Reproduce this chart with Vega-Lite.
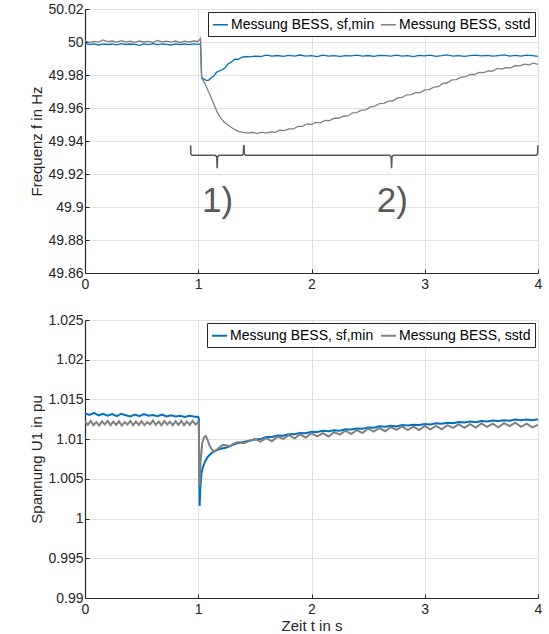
{
  "$schema": "https://vega.github.io/schema/vega-lite/v6.json",
  "padding": {"left": 29, "top": 2, "right": 4, "bottom": 2},
  "spacing": 22,
  "resolve": {"scale": {"color": "independent"}, "legend": {"color": "independent"}},
  "config": {
    "view": {"stroke": null},
    "font": "Liberation Sans",
    "axis": {
      "labelFont": "Liberation Sans", "labelFontSize": 14, "labelColor": "#262626",
      "titleFont": "Liberation Sans", "titleFontSize": 15, "titleFontWeight": "normal", "titleColor": "#262626",
      "domainColor": "#262626", "domainWidth": 1.2, "tickColor": "#262626", "tickSize": -4, "tickWidth": 1,
      "gridColor": "#e2e2e2", "gridWidth": 1, "labelPadding": 6, "titlePadding": 3,
      "labelOverlap": false, "labelFlush": false
    },
    "axisX": {"labelPadding": 8},
    "legend": {
      "labelFont": "Liberation Sans", "labelFontSize": 14, "labelColor": "#000000",
      "strokeColor": "#262626", "fillColor": "#ffffff", "padding": 4, "offset": 3,
      "symbolType": "stroke", "symbolSize": 225, "columnPadding": 3, "labelOffset": 2, "labelLimit": 400
    }
  },
  "datasets": {
    "freq": [
      {"t":0.00,"f":49.9990,"s":"sf,min"},{"t":0.04,"f":49.9986,"s":"sf,min"},{"t":0.08,"f":49.9988,"s":"sf,min"},{"t":0.12,"f":49.9982,"s":"sf,min"},{"t":0.16,"f":49.9988,"s":"sf,min"},{"t":0.20,"f":49.9985,"s":"sf,min"},{"t":0.24,"f":49.9988,"s":"sf,min"},{"t":0.28,"f":49.9983,"s":"sf,min"},{"t":0.32,"f":49.9990,"s":"sf,min"},{"t":0.36,"f":49.9985,"s":"sf,min"},{"t":0.40,"f":49.9988,"s":"sf,min"},{"t":0.44,"f":49.9986,"s":"sf,min"},{"t":0.48,"f":49.9980,"s":"sf,min"},{"t":0.52,"f":49.9988,"s":"sf,min"},{"t":0.56,"f":49.9984,"s":"sf,min"},{"t":0.60,"f":49.9990,"s":"sf,min"},{"t":0.64,"f":49.9984,"s":"sf,min"},{"t":0.68,"f":49.9988,"s":"sf,min"},{"t":0.72,"f":49.9986,"s":"sf,min"},{"t":0.76,"f":49.9982,"s":"sf,min"},{"t":0.80,"f":49.9989,"s":"sf,min"},{"t":0.84,"f":49.9985,"s":"sf,min"},{"t":0.88,"f":49.9988,"s":"sf,min"},{"t":0.92,"f":49.9984,"s":"sf,min"},{"t":0.96,"f":49.9989,"s":"sf,min"},{"t":1.00,"f":49.9986,"s":"sf,min"},
      {"t":1.02,"f":49.9988,"s":"sf,min"},{"t":1.03,"f":49.9785,"s":"sf,min"},{"t":1.05,"f":49.9775,"s":"sf,min"},{"t":1.07,"f":49.9768,"s":"sf,min"},{"t":1.09,"f":49.9768,"s":"sf,min"},{"t":1.11,"f":49.9780,"s":"sf,min"},{"t":1.14,"f":49.9795,"s":"sf,min"},{"t":1.16,"f":49.9816,"s":"sf,min"},{"t":1.19,"f":49.9826,"s":"sf,min"},{"t":1.22,"f":49.9836,"s":"sf,min"},{"t":1.24,"f":49.9845,"s":"sf,min"},{"t":1.26,"f":49.9866,"s":"sf,min"},{"t":1.29,"f":49.9878,"s":"sf,min"},{"t":1.32,"f":49.9896,"s":"sf,min"},{"t":1.35,"f":49.9894,"s":"sf,min"},{"t":1.38,"f":49.9906,"s":"sf,min"},{"t":1.41,"f":49.9912,"s":"sf,min"},{"t":1.45,"f":49.9910,"s":"sf,min"},{"t":1.50,"f":49.9914,"s":"sf,min"},
      {"t":1.55,"f":49.9912,"s":"sf,min"},{"t":1.60,"f":49.9920,"s":"sf,min"},{"t":1.65,"f":49.9914,"s":"sf,min"},{"t":1.70,"f":49.9918,"s":"sf,min"},{"t":1.75,"f":49.9913,"s":"sf,min"},{"t":1.80,"f":49.9919,"s":"sf,min"},{"t":1.85,"f":49.9915,"s":"sf,min"},{"t":1.90,"f":49.9921,"s":"sf,min"},{"t":1.95,"f":49.9914,"s":"sf,min"},{"t":2.00,"f":49.9917,"s":"sf,min"},{"t":2.05,"f":49.9912,"s":"sf,min"},{"t":2.10,"f":49.9920,"s":"sf,min"},{"t":2.15,"f":49.9915,"s":"sf,min"},{"t":2.20,"f":49.9918,"s":"sf,min"},{"t":2.25,"f":49.9913,"s":"sf,min"},{"t":2.30,"f":49.9917,"s":"sf,min"},{"t":2.35,"f":49.9916,"s":"sf,min"},{"t":2.40,"f":49.9921,"s":"sf,min"},{"t":2.45,"f":49.9914,"s":"sf,min"},{"t":2.50,"f":49.9918,"s":"sf,min"},{"t":2.55,"f":49.9913,"s":"sf,min"},{"t":2.60,"f":49.9919,"s":"sf,min"},{"t":2.65,"f":49.9917,"s":"sf,min"},{"t":2.70,"f":49.9914,"s":"sf,min"},{"t":2.75,"f":49.9920,"s":"sf,min"},{"t":2.80,"f":49.9915,"s":"sf,min"},{"t":2.85,"f":49.9918,"s":"sf,min"},{"t":2.90,"f":49.9912,"s":"sf,min"},{"t":2.95,"f":49.9919,"s":"sf,min"},{"t":3.00,"f":49.9916,"s":"sf,min"},{"t":3.05,"f":49.9920,"s":"sf,min"},{"t":3.10,"f":49.9913,"s":"sf,min"},{"t":3.15,"f":49.9917,"s":"sf,min"},{"t":3.20,"f":49.9922,"s":"sf,min"},{"t":3.25,"f":49.9915,"s":"sf,min"},{"t":3.30,"f":49.9918,"s":"sf,min"},{"t":3.35,"f":49.9913,"s":"sf,min"},{"t":3.40,"f":49.9917,"s":"sf,min"},{"t":3.45,"f":49.9921,"s":"sf,min"},{"t":3.50,"f":49.9916,"s":"sf,min"},{"t":3.55,"f":49.9919,"s":"sf,min"},{"t":3.60,"f":49.9914,"s":"sf,min"},{"t":3.65,"f":49.9918,"s":"sf,min"},{"t":3.70,"f":49.9922,"s":"sf,min"},{"t":3.75,"f":49.9915,"s":"sf,min"},{"t":3.80,"f":49.9919,"s":"sf,min"},{"t":3.85,"f":49.9914,"s":"sf,min"},{"t":3.90,"f":49.9920,"s":"sf,min"},{"t":3.95,"f":49.9917,"s":"sf,min"},{"t":4.00,"f":49.9913,"s":"sf,min"},
      {"t":0.00,"f":50.0005,"s":"sstd"},{"t":0.04,"f":49.9998,"s":"sstd"},{"t":0.08,"f":50.0004,"s":"sstd"},{"t":0.12,"f":49.9999,"s":"sstd"},{"t":0.16,"f":50.0012,"s":"sstd"},{"t":0.20,"f":50.0002,"s":"sstd"},{"t":0.24,"f":50.0006,"s":"sstd"},{"t":0.28,"f":49.9999,"s":"sstd"},{"t":0.32,"f":50.0008,"s":"sstd"},{"t":0.36,"f":50.0001,"s":"sstd"},{"t":0.40,"f":50.0005,"s":"sstd"},{"t":0.44,"f":49.9998,"s":"sstd"},{"t":0.48,"f":50.0006,"s":"sstd"},{"t":0.52,"f":50.0000,"s":"sstd"},{"t":0.56,"f":50.0004,"s":"sstd"},{"t":0.60,"f":49.9998,"s":"sstd"},{"t":0.64,"f":50.0009,"s":"sstd"},{"t":0.68,"f":50.0001,"s":"sstd"},{"t":0.72,"f":50.0005,"s":"sstd"},{"t":0.76,"f":49.9999,"s":"sstd"},{"t":0.80,"f":50.0006,"s":"sstd"},{"t":0.84,"f":49.9997,"s":"sstd"},{"t":0.88,"f":50.0005,"s":"sstd"},{"t":0.92,"f":50.0000,"s":"sstd"},{"t":0.96,"f":50.0006,"s":"sstd"},{"t":1.00,"f":50.0003,"s":"sstd"},
      {"t":1.02,"f":50.0022,"s":"sstd"},{"t":1.03,"f":49.9780,"s":"sstd"},{"t":1.06,"f":49.9748,"s":"sstd"},{"t":1.085,"f":49.9707,"s":"sstd"},{"t":1.11,"f":49.9670,"s":"sstd"},{"t":1.14,"f":49.9620,"s":"sstd"},{"t":1.17,"f":49.9570,"s":"sstd"},{"t":1.20,"f":49.9538,"s":"sstd"},{"t":1.23,"f":49.9514,"s":"sstd"},{"t":1.26,"f":49.9498,"s":"sstd"},{"t":1.29,"f":49.9483,"s":"sstd"},{"t":1.32,"f":49.9470,"s":"sstd"},{"t":1.36,"f":49.9457,"s":"sstd"},{"t":1.40,"f":49.9452,"s":"sstd"},{"t":1.44,"f":49.9448,"s":"sstd"},
      {"t":1.48,"f":49.9453,"s":"sstd"},{"t":1.52,"f":49.9445,"s":"sstd"},{"t":1.56,"f":49.9454,"s":"sstd"},{"t":1.60,"f":49.9448,"s":"sstd"},{"t":1.64,"f":49.9455,"s":"sstd"},{"t":1.68,"f":49.9452,"s":"sstd"},{"t":1.72,"f":49.9466,"s":"sstd"},{"t":1.76,"f":49.9463,"s":"sstd"},{"t":1.80,"f":49.9474,"s":"sstd"},{"t":1.84,"f":49.9473,"s":"sstd"},{"t":1.88,"f":49.9489,"s":"sstd"},{"t":1.92,"f":49.9489,"s":"sstd"},{"t":1.96,"f":49.9503,"s":"sstd"},{"t":2.00,"f":49.9501,"s":"sstd"},{"t":2.04,"f":49.9513,"s":"sstd"},{"t":2.08,"f":49.9511,"s":"sstd"},{"t":2.12,"f":49.9525,"s":"sstd"},{"t":2.16,"f":49.9524,"s":"sstd"},{"t":2.20,"f":49.9538,"s":"sstd"},{"t":2.24,"f":49.9538,"s":"sstd"},{"t":2.28,"f":49.9550,"s":"sstd"},{"t":2.32,"f":49.9552,"s":"sstd"},{"t":2.36,"f":49.9571,"s":"sstd"},{"t":2.40,"f":49.9572,"s":"sstd"},{"t":2.44,"f":49.9587,"s":"sstd"},{"t":2.48,"f":49.9589,"s":"sstd"},{"t":2.52,"f":49.9607,"s":"sstd"},{"t":2.56,"f":49.9611,"s":"sstd"},{"t":2.60,"f":49.9627,"s":"sstd"},{"t":2.64,"f":49.9628,"s":"sstd"},{"t":2.68,"f":49.9642,"s":"sstd"},{"t":2.72,"f":49.9644,"s":"sstd"},{"t":2.76,"f":49.9661,"s":"sstd"},{"t":2.80,"f":49.9664,"s":"sstd"},{"t":2.84,"f":49.9680,"s":"sstd"},{"t":2.88,"f":49.9681,"s":"sstd"},{"t":2.92,"f":49.9693,"s":"sstd"},{"t":2.96,"f":49.9693,"s":"sstd"},{"t":3.00,"f":49.9710,"s":"sstd"},{"t":3.04,"f":49.9711,"s":"sstd"},{"t":3.08,"f":49.9726,"s":"sstd"},{"t":3.12,"f":49.9729,"s":"sstd"},{"t":3.16,"f":49.9749,"s":"sstd"},{"t":3.20,"f":49.9753,"s":"sstd"},{"t":3.24,"f":49.9770,"s":"sstd"},{"t":3.28,"f":49.9772,"s":"sstd"},{"t":3.32,"f":49.9787,"s":"sstd"},{"t":3.36,"f":49.9788,"s":"sstd"},{"t":3.40,"f":49.9804,"s":"sstd"},{"t":3.44,"f":49.9803,"s":"sstd"},{"t":3.48,"f":49.9816,"s":"sstd"},{"t":3.52,"f":49.9814,"s":"sstd"},{"t":3.56,"f":49.9825,"s":"sstd"},{"t":3.60,"f":49.9824,"s":"sstd"},{"t":3.64,"f":49.9840,"s":"sstd"},{"t":3.68,"f":49.9836,"s":"sstd"},{"t":3.72,"f":49.9845,"s":"sstd"},{"t":3.76,"f":49.9843,"s":"sstd"},{"t":3.80,"f":49.9856,"s":"sstd"},{"t":3.84,"f":49.9855,"s":"sstd"},{"t":3.88,"f":49.9866,"s":"sstd"},{"t":3.92,"f":49.9862,"s":"sstd"},{"t":3.96,"f":49.9872,"s":"sstd"},{"t":4.00,"f":49.9864,"s":"sstd"}
    ],
    "brace": [
      {"g":1,"i":1,"t":0.933,"f":49.9374},{"g":1,"i":2,"t":0.935,"f":49.9322},{"g":1,"i":3,"t":0.945,"f":49.9313},{"g":1,"i":4,"t":1.150,"f":49.9313},{"g":1,"i":5,"t":1.163,"f":49.9305},{"g":1,"i":6,"t":1.167,"f":49.9235},{"g":1,"i":7,"t":1.171,"f":49.9305},{"g":1,"i":8,"t":1.184,"f":49.9313},{"g":1,"i":9,"t":1.388,"f":49.9313},{"g":1,"i":10,"t":1.398,"f":49.9322},{"g":1,"i":11,"t":1.401,"f":49.9374},
      {"g":2,"i":1,"t":1.404,"f":49.9374},{"g":2,"i":2,"t":1.407,"f":49.9322},{"g":2,"i":3,"t":1.417,"f":49.9313},{"g":2,"i":4,"t":2.690,"f":49.9313},{"g":2,"i":5,"t":2.703,"f":49.9305},{"g":2,"i":6,"t":2.707,"f":49.9235},{"g":2,"i":7,"t":2.711,"f":49.9305},{"g":2,"i":8,"t":2.724,"f":49.9313},{"g":2,"i":9,"t":3.985,"f":49.9313},{"g":2,"i":10,"t":3.996,"f":49.9322},{"g":2,"i":11,"t":3.999,"f":49.9374}
    ],
    "lbl": [
      {"t":1.170,"f":49.897,"label":"1)"},
      {"t":2.714,"f":49.897,"label":"2)"}
    ],
    "volt": [
      {"t":0.00,"u":1.01325,"s":"sf,min"},{"t":0.04,"u":1.01305,"s":"sf,min"},{"t":0.08,"u":1.01330,"s":"sf,min"},{"t":0.12,"u":1.01300,"s":"sf,min"},{"t":0.16,"u":1.01320,"s":"sf,min"},{"t":0.20,"u":1.01295,"s":"sf,min"},{"t":0.24,"u":1.01315,"s":"sf,min"},{"t":0.28,"u":1.01290,"s":"sf,min"},{"t":0.32,"u":1.01320,"s":"sf,min"},{"t":0.36,"u":1.01300,"s":"sf,min"},{"t":0.40,"u":1.01285,"s":"sf,min"},{"t":0.44,"u":1.01310,"s":"sf,min"},{"t":0.48,"u":1.01290,"s":"sf,min"},{"t":0.52,"u":1.01315,"s":"sf,min"},{"t":0.56,"u":1.01295,"s":"sf,min"},{"t":0.60,"u":1.01305,"s":"sf,min"},{"t":0.64,"u":1.01290,"s":"sf,min"},{"t":0.68,"u":1.01310,"s":"sf,min"},{"t":0.72,"u":1.01285,"s":"sf,min"},{"t":0.76,"u":1.01300,"s":"sf,min"},{"t":0.80,"u":1.01285,"s":"sf,min"},{"t":0.84,"u":1.01295,"s":"sf,min"},{"t":0.88,"u":1.01280,"s":"sf,min"},{"t":0.92,"u":1.01295,"s":"sf,min"},{"t":0.96,"u":1.01285,"s":"sf,min"},{"t":1.00,"u":1.01280,"s":"sf,min"},
      {"t":1.005,"u":1.01255,"s":"sf,min"},{"t":1.012,"u":1.00160,"s":"sf,min"},{"t":1.02,"u":1.00420,"s":"sf,min"},{"t":1.03,"u":1.00580,"s":"sf,min"},{"t":1.04,"u":1.00640,"s":"sf,min"},{"t":1.06,"u":1.00720,"s":"sf,min"},{"t":1.08,"u":1.00770,"s":"sf,min"},{"t":1.10,"u":1.00800,"s":"sf,min"},{"t":1.13,"u":1.00840,"s":"sf,min"},{"t":1.16,"u":1.00860,"s":"sf,min"},{"t":1.20,"u":1.00880,"s":"sf,min"},{"t":1.25,"u":1.00895,"s":"sf,min"},{"t":1.30,"u":1.00925,"s":"sf,min"},{"t":1.35,"u":1.00950,"s":"sf,min"},{"t":1.40,"u":1.00965,"s":"sf,min"},{"t":1.45,"u":1.00980,"s":"sf,min"},
      {"t":1.50,"u":1.00996,"s":"sf,min"},{"t":1.55,"u":1.01001,"s":"sf,min"},{"t":1.60,"u":1.01028,"s":"sf,min"},{"t":1.65,"u":1.01027,"s":"sf,min"},{"t":1.70,"u":1.01045,"s":"sf,min"},{"t":1.75,"u":1.01042,"s":"sf,min"},{"t":1.80,"u":1.01063,"s":"sf,min"},{"t":1.85,"u":1.01062,"s":"sf,min"},{"t":1.90,"u":1.01076,"s":"sf,min"},{"t":1.95,"u":1.01075,"s":"sf,min"},{"t":2.00,"u":1.01094,"s":"sf,min"},{"t":2.05,"u":1.01089,"s":"sf,min"},{"t":2.10,"u":1.01106,"s":"sf,min"},{"t":2.15,"u":1.01100,"s":"sf,min"},{"t":2.20,"u":1.01113,"s":"sf,min"},{"t":2.25,"u":1.01106,"s":"sf,min"},{"t":2.30,"u":1.01125,"s":"sf,min"},{"t":2.35,"u":1.01122,"s":"sf,min"},{"t":2.40,"u":1.01134,"s":"sf,min"},{"t":2.45,"u":1.01131,"s":"sf,min"},{"t":2.50,"u":1.01148,"s":"sf,min"},{"t":2.55,"u":1.01144,"s":"sf,min"},{"t":2.60,"u":1.01162,"s":"sf,min"},{"t":2.65,"u":1.01157,"s":"sf,min"},{"t":2.70,"u":1.01168,"s":"sf,min"},{"t":2.75,"u":1.01160,"s":"sf,min"},{"t":2.80,"u":1.01177,"s":"sf,min"},{"t":2.85,"u":1.01172,"s":"sf,min"},{"t":2.90,"u":1.01182,"s":"sf,min"},{"t":2.95,"u":1.01177,"s":"sf,min"},{"t":3.00,"u":1.01191,"s":"sf,min"},{"t":3.05,"u":1.01185,"s":"sf,min"},{"t":3.10,"u":1.01201,"s":"sf,min"},{"t":3.15,"u":1.01194,"s":"sf,min"},{"t":3.20,"u":1.01206,"s":"sf,min"},{"t":3.25,"u":1.01199,"s":"sf,min"},{"t":3.30,"u":1.01216,"s":"sf,min"},{"t":3.35,"u":1.01211,"s":"sf,min"},{"t":3.40,"u":1.01221,"s":"sf,min"},{"t":3.45,"u":1.01214,"s":"sf,min"},{"t":3.50,"u":1.01228,"s":"sf,min"},{"t":3.55,"u":1.01221,"s":"sf,min"},{"t":3.60,"u":1.01236,"s":"sf,min"},{"t":3.65,"u":1.01228,"s":"sf,min"},{"t":3.70,"u":1.01239,"s":"sf,min"},{"t":3.75,"u":1.01231,"s":"sf,min"},{"t":3.80,"u":1.01247,"s":"sf,min"},{"t":3.85,"u":1.01239,"s":"sf,min"},{"t":3.90,"u":1.01246,"s":"sf,min"},{"t":3.95,"u":1.01239,"s":"sf,min"},{"t":4.00,"u":1.01250,"s":"sf,min"},
      {"t":0.000,"u":1.01225,"s":"sstd"},{"t":0.025,"u":1.01180,"s":"sstd"},{"t":0.050,"u":1.01230,"s":"sstd"},{"t":0.075,"u":1.01175,"s":"sstd"},{"t":0.100,"u":1.01215,"s":"sstd"},{"t":0.125,"u":1.01170,"s":"sstd"},{"t":0.150,"u":1.01225,"s":"sstd"},{"t":0.175,"u":1.01185,"s":"sstd"},{"t":0.200,"u":1.01230,"s":"sstd"},{"t":0.225,"u":1.01175,"s":"sstd"},{"t":0.250,"u":1.01220,"s":"sstd"},{"t":0.275,"u":1.01180,"s":"sstd"},{"t":0.300,"u":1.01225,"s":"sstd"},{"t":0.325,"u":1.01170,"s":"sstd"},{"t":0.350,"u":1.01215,"s":"sstd"},{"t":0.375,"u":1.01185,"s":"sstd"},{"t":0.400,"u":1.01230,"s":"sstd"},{"t":0.425,"u":1.01175,"s":"sstd"},{"t":0.450,"u":1.01220,"s":"sstd"},{"t":0.475,"u":1.01180,"s":"sstd"},{"t":0.500,"u":1.01225,"s":"sstd"},{"t":0.525,"u":1.01175,"s":"sstd"},{"t":0.550,"u":1.01215,"s":"sstd"},{"t":0.575,"u":1.01185,"s":"sstd"},{"t":0.600,"u":1.01235,"s":"sstd"},{"t":0.625,"u":1.01180,"s":"sstd"},{"t":0.650,"u":1.01220,"s":"sstd"},{"t":0.675,"u":1.01175,"s":"sstd"},{"t":0.700,"u":1.01230,"s":"sstd"},{"t":0.725,"u":1.01185,"s":"sstd"},{"t":0.750,"u":1.01220,"s":"sstd"},{"t":0.775,"u":1.01175,"s":"sstd"},{"t":0.800,"u":1.01225,"s":"sstd"},{"t":0.825,"u":1.01180,"s":"sstd"},{"t":0.850,"u":1.01230,"s":"sstd"},{"t":0.875,"u":1.01175,"s":"sstd"},{"t":0.900,"u":1.01220,"s":"sstd"},{"t":0.925,"u":1.01180,"s":"sstd"},{"t":0.950,"u":1.01230,"s":"sstd"},{"t":0.975,"u":1.01185,"s":"sstd"},{"t":1.000,"u":1.01215,"s":"sstd"},
      {"t":1.005,"u":1.01190,"s":"sstd"},{"t":1.011,"u":1.00400,"s":"sstd"},{"t":1.02,"u":1.00700,"s":"sstd"},{"t":1.035,"u":1.00950,"s":"sstd"},{"t":1.05,"u":1.01020,"s":"sstd"},{"t":1.065,"u":1.01040,"s":"sstd"},{"t":1.08,"u":1.01000,"s":"sstd"},{"t":1.10,"u":1.00920,"s":"sstd"},{"t":1.12,"u":1.00870,"s":"sstd"},{"t":1.14,"u":1.00840,"s":"sstd"},{"t":1.16,"u":1.00860,"s":"sstd"},{"t":1.19,"u":1.00900,"s":"sstd"},{"t":1.22,"u":1.00930,"s":"sstd"},{"t":1.25,"u":1.00920,"s":"sstd"},{"t":1.28,"u":1.00910,"s":"sstd"},{"t":1.31,"u":1.00940,"s":"sstd"},{"t":1.35,"u":1.00965,"s":"sstd"},{"t":1.40,"u":1.00950,"s":"sstd"},{"t":1.45,"u":1.00975,"s":"sstd"},
      {"t":1.50,"u":1.01005,"s":"sstd"},{"t":1.55,"u":1.00968,"s":"sstd"},{"t":1.60,"u":1.01013,"s":"sstd"},{"t":1.65,"u":1.00974,"s":"sstd"},{"t":1.70,"u":1.01032,"s":"sstd"},{"t":1.75,"u":1.01002,"s":"sstd"},{"t":1.80,"u":1.01051,"s":"sstd"},{"t":1.85,"u":1.01009,"s":"sstd"},{"t":1.90,"u":1.01058,"s":"sstd"},{"t":1.95,"u":1.01019,"s":"sstd"},{"t":2.00,"u":1.01075,"s":"sstd"},{"t":2.05,"u":1.01034,"s":"sstd"},{"t":2.10,"u":1.01076,"s":"sstd"},{"t":2.15,"u":1.01034,"s":"sstd"},{"t":2.20,"u":1.01088,"s":"sstd"},{"t":2.25,"u":1.01057,"s":"sstd"},{"t":2.30,"u":1.01106,"s":"sstd"},{"t":2.35,"u":1.01065,"s":"sstd"},{"t":2.40,"u":1.01114,"s":"sstd"},{"t":2.45,"u":1.01076,"s":"sstd"},{"t":2.50,"u":1.01133,"s":"sstd"},{"t":2.55,"u":1.01095,"s":"sstd"},{"t":2.60,"u":1.01140,"s":"sstd"},{"t":2.65,"u":1.01100,"s":"sstd"},{"t":2.70,"u":1.01152,"s":"sstd"},{"t":2.75,"u":1.01117,"s":"sstd"},{"t":2.80,"u":1.01161,"s":"sstd"},{"t":2.85,"u":1.01114,"s":"sstd"},{"t":2.90,"u":1.01158,"s":"sstd"},{"t":2.95,"u":1.01114,"s":"sstd"},{"t":3.00,"u":1.01165,"s":"sstd"},{"t":3.05,"u":1.01124,"s":"sstd"},{"t":3.10,"u":1.01166,"s":"sstd"},{"t":3.15,"u":1.01124,"s":"sstd"},{"t":3.20,"u":1.01177,"s":"sstd"},{"t":3.25,"u":1.01143,"s":"sstd"},{"t":3.30,"u":1.01188,"s":"sstd"},{"t":3.35,"u":1.01142,"s":"sstd"},{"t":3.40,"u":1.01188,"s":"sstd"},{"t":3.45,"u":1.01145,"s":"sstd"},{"t":3.50,"u":1.01197,"s":"sstd"},{"t":3.55,"u":1.01154,"s":"sstd"},{"t":3.60,"u":1.01194,"s":"sstd"},{"t":3.65,"u":1.01150,"s":"sstd"},{"t":3.70,"u":1.01202,"s":"sstd"},{"t":3.75,"u":1.01165,"s":"sstd"},{"t":3.80,"u":1.01207,"s":"sstd"},{"t":3.85,"u":1.01156,"s":"sstd"},{"t":3.90,"u":1.01196,"s":"sstd"},{"t":3.95,"u":1.01149,"s":"sstd"},{"t":4.00,"u":1.01180,"s":"sstd"}
    ]
  },
  "vconcat": [
    {
      "width": 453,
      "height": 264,
      "encoding": {
        "x": {"field": "t", "type": "quantitative", "scale": {"domain": [0, 4], "nice": false}, "axis": {"values": [0, 1, 2, 3, 4], "format": "d", "title": null, "labelOverlap": false, "labelFlush": false}},
        "y": {"field": "f", "type": "quantitative", "scale": {"domain": [49.86, 50.02], "nice": false, "zero": false}, "axis": {"values": [49.86, 49.88, 49.9, 49.92, 49.94, 49.96, 49.98, 50, 50.02], "format": "~g", "title": "Frequenz f in Hz", "labelOverlap": false, "labelFlush": false, "grid": true}}
      },
      "layer": [
        {
          "data": {"name": "freq"},
          "mark": {"type": "line", "strokeWidth": 1.3, "clip": true},
          "encoding": {
            "color": {
              "field": "s", "type": "nominal",
              "scale": {"domain": ["sf,min", "sstd"], "range": ["#0072BD", "#808080"]},
              "legend": {"title": null, "orient": "top-right", "direction": "horizontal", "symbolStrokeWidth": 1.5, "labelExpr": "'Messung BESS, ' + datum.label"}
            }
          }
        },
        {
          "data": {"name": "brace"},
          "mark": {"type": "line", "color": "#595959", "strokeWidth": 1.5},
          "encoding": {
            "detail": {"field": "g", "type": "nominal"},
            "order": {"field": "i", "type": "quantitative"}
          }
        },
        {
          "data": {"name": "lbl"},
          "mark": {"type": "text", "fontSize": 35, "color": "#595959", "baseline": "alphabetic", "align": "center", "font": "Liberation Sans"},
          "encoding": {
            "text": {"field": "label", "type": "nominal"}
          }
        }
      ]
    },
    {
      "width": 453,
      "height": 278,
      "data": {"name": "volt"},
      "mark": {"type": "line", "strokeWidth": 2, "clip": true},
      "encoding": {
        "x": {"field": "t", "type": "quantitative", "scale": {"domain": [0, 4], "nice": false}, "axis": {"values": [0, 1, 2, 3, 4], "format": "d", "title": "Zeit t in s", "titlePadding": 2}},
        "y": {"field": "u", "type": "quantitative", "scale": {"domain": [0.99, 1.025], "nice": false, "zero": false}, "axis": {"values": [0.99, 0.995, 1, 1.005, 1.01, 1.015, 1.02, 1.025], "format": "~g", "title": "Spannung U1 in pu"}},
        "color": {
          "field": "s", "type": "nominal",
          "scale": {"domain": ["sf,min", "sstd"], "range": ["#0072BD", "#808080"]},
          "legend": {"title": null, "orient": "top-right", "direction": "horizontal", "symbolStrokeWidth": 2, "labelExpr": "'Messung BESS, ' + datum.label"}
        }
      }
    }
  ]
}
